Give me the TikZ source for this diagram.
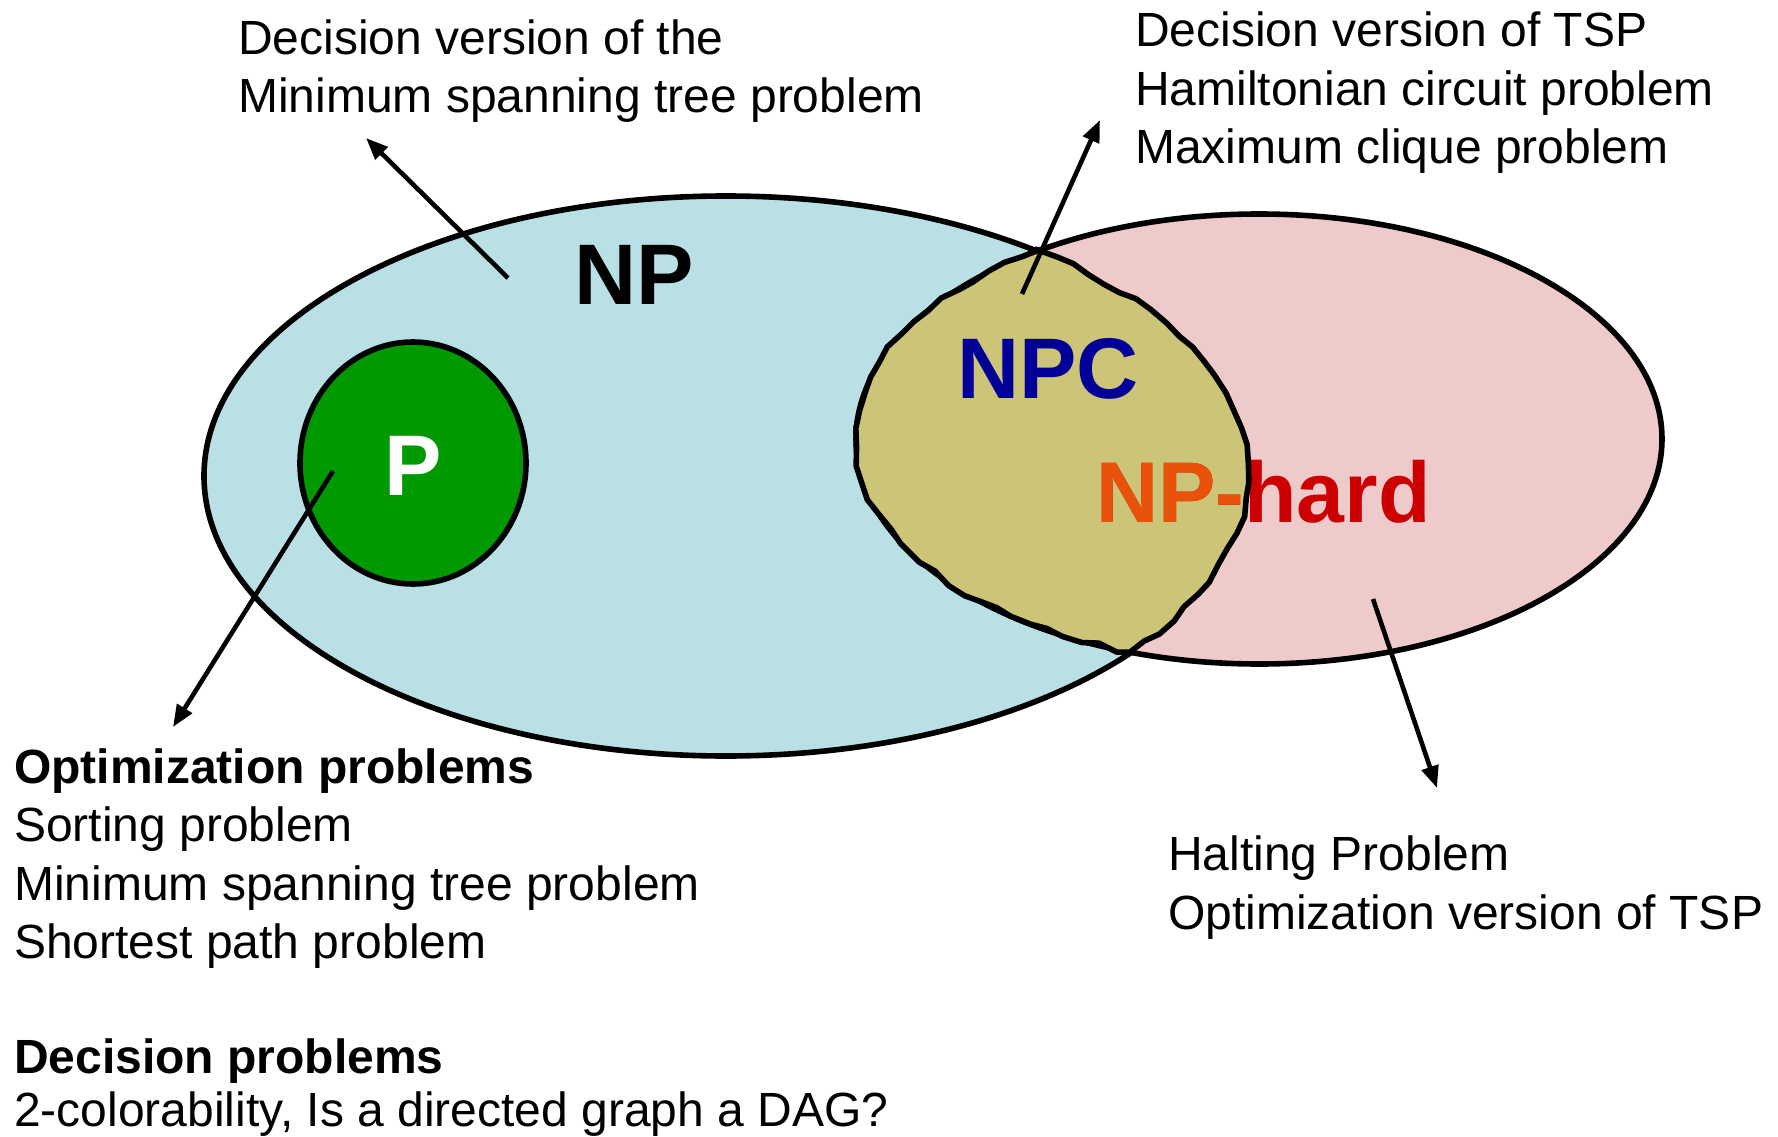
\documentclass[tikz,border=0pt]{standalone}
\usepackage{fontspec}
\setmainfont{Liberation Sans}
\usetikzlibrary{arrows.meta,decorations.pathmorphing,shapes.geometric}
\definecolor{npblue}{RGB}{185,224,228}
\definecolor{pgreen}{RGB}{0,153,0}
\definecolor{hardpink}{RGB}{238,202,202}
\definecolor{npckhaki}{RGB}{204,196,118}
\definecolor{npcblue}{RGB}{0,0,153}
\definecolor{hardred}{RGB}{204,0,0}
\definecolor{hardorange}{RGB}{232,82,10}
\begin{document}
\begin{tikzpicture}[x=1pt,y=-1pt,
  txt/.style={anchor=base west, inner sep=0pt, font=\fontsize{48}{58}\selectfont},
  btxt/.style={anchor=base west, inner sep=0pt, font=\fontsize{48}{58}\selectfont\bfseries},
  big/.style={anchor=base west, inner sep=0pt, font=\fontsize{86}{90}\selectfont\bfseries},
  arr/.style={line width=4.6pt, -{Triangle[length=22pt,width=17pt]}},
  setline/.style={line width=5.6pt, draw=black},
  wobble/.style={decorate, decoration={random steps, segment length=18pt, amplitude=2.4pt}}]
\useasboundingbox (0,0) rectangle (1778,1137);

% sets
\node[ellipse, setline, fill=npblue, minimum width=1044pt, minimum height=560pt, inner sep=0pt] (np) at (726,476) {};
\node[ellipse, setline, fill=pgreen, minimum width=226pt, minimum height=242pt, inner sep=0pt] (pset) at (413,463) {};
\node[ellipse, setline, fill=hardpink, minimum width=806pt, minimum height=450pt, inner sep=0pt] (nphard) at (1259,439) {};

% NPC lens fill
\pgfmathsetseed{7}
\path[wobble, fill=npckhaki]
  (1039,250) arc[start angle=237, end angle=108.6, x radius=403, y radius=225]
  arc[start angle=39.2, end angle=-53.4, x radius=522, y radius=280] -- cycle;

% big labels
\node[big, text=black] (nplbl) at (574,304) {NP};
\node[big, text=white] (plbl) at (384,495) {P};
\node[big, text=npcblue] (npclbl) at (957,398) {NPC};
\node[big, text=hardred] (hardlbl) at (1096,522) {NP-hard};
\begin{scope}
  \clip (1039,250) arc[start angle=237, end angle=108.6, x radius=403, y radius=225]
    arc[start angle=39.2, end angle=-53.4, x radius=522, y radius=280] -- cycle;
  \node[big, text=hardorange] (hardlblb) at (1096,522) {NP-hard};
\end{scope}

% NPC lens outline
\pgfmathsetseed{7}
\path[wobble, setline]
  (1039,250) arc[start angle=237, end angle=108.6, x radius=403, y radius=225]
  arc[start angle=39.2, end angle=-53.4, x radius=522, y radius=280] -- cycle;

% texts
\node[txt] (t1) at (238,55) {Decision version of the};
\node[txt] (t2) at (238,113) {Minimum spanning tree problem};

\node[txt] (r1) at (1135,47) {Decision version of TSP};
\node[txt] (r2) at (1135,106) {Hamiltonian circuit problem};
\node[txt] (r3) at (1135,164) {Maximum clique problem};

\node[btxt] (b1) at (14,783) {Optimization problems};
\node[txt] (b2) at (14,841) {Sorting problem};
\node[txt] (b3) at (14,900) {Minimum spanning tree problem};
\node[txt] (b4) at (14,958) {Shortest path problem};
\node[btxt] (b5) at (14,1073) {Decision problems};
\node[txt] (b6) at (14,1126) {2-colorability, Is a directed graph a DAG?};

\node[txt] (h1) at (1168,870) {Halting Problem};
\node[txt] (h2) at (1168,929) {Optimization version of TSP};

% arrows
\coordinate (a1s) at (508,278);
\coordinate (a1e) at (366,138);
\coordinate (a2s) at (333,471);
\coordinate (a2e) at (173,727);
\coordinate (a3s) at (1022,294);
\coordinate (a3e) at (1100,120);
\coordinate (a4s) at (1373,599);
\coordinate (a4e) at (1437,788);
\draw[arr] (a1s) -- (a1e);
\draw[arr] (a2s) -- (a2e);
\draw[arr] (a3s) -- (a3e);
\draw[arr] (a4s) -- (a4e);
\end{tikzpicture}
\end{document}
